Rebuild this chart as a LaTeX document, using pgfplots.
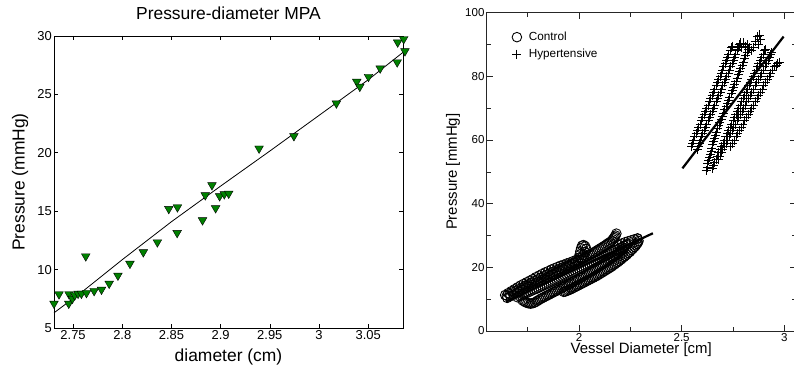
\documentclass[border=0pt]{standalone}
\usepackage{fontspec}
\setmainfont{Liberation Sans}
\usepackage{pgfplots}
\pgfplotsset{compat=1.18}
\definecolor{mgreen}{rgb}{0,0.5,0}
\pgfplotsset{wideleg/.style={legend image code/.code={\path[draw=none,fill=none] (0cm,-0.05cm) rectangle (0.6cm,0.05cm);\draw[##1, only marks] plot coordinates {(0.25cm,0cm)};}}}
\begin{document}
\begin{tikzpicture}
\useasboundingbox (0,0) rectangle (794bp,367bp);
\begin{axis}[
 at={(54bp,39bp)}, anchor=south west,
 width=349bp, height=292bp, scale only axis,
 xmin=2.7306, xmax=3.0854, ymin=5, ymax=30,
 xtick={2.75,2.8,2.85,2.9,2.95,3,3.05},
 xticklabels={2.75,2.8,2.85,2.9,2.95,3,3.05},
 ytick={5,10,15,20,25,30},
 yticklabels={5,10,15,20,25,30},
 tick align=inside, major tick length=4bp,
 axis line style={line width=0.8bp},
 every tick/.style={black, line width=0.6bp},
 ticklabel style={font=\fontsize{13}{15}\selectfont, inner sep=2bp},
 /pgf/number format/assume math mode=true,
 xlabel={diameter (cm)}, ylabel={Pressure (mmHg)},
 label style={font=\fontsize{17.5}{20}\selectfont},
 xlabel style={at={(axis description cs:0.5,-0.0993)}, anchor=center},
 ylabel style={at={(axis description cs:-0.0974,0.5)}, anchor=center},
 title={Pressure-diameter MPA},
 title style={at={(axis description cs:0.5,1.056)}, anchor=center, font=\fontsize{17.5}{20}\selectfont},
 clip=false,
]
\addplot[only marks, mark=triangle*, mark size=5bp,
  mark options={rotate=180, fill=mgreen, draw=black, line width=0.4bp}]
 table {
x y
2.7306 7.09
2.7357 7.89
2.7459 7.89
2.7456 7.09
2.7493 7.51
2.7517 7.80
2.7551 7.94
2.7585 7.94
2.7629 11.14
2.7636 8.00
2.7714 8.17
2.7789 8.29
2.7867 8.80
2.7956 9.49
2.8078 10.51
2.8214 11.49
2.8357 12.34
2.8473 15.20
2.8561 15.34
2.8558 13.14
2.8816 14.23
2.8844 16.37
2.8912 17.23
2.8949 15.26
2.8990 16.29
2.9037 16.46
2.9082 16.51
2.9391 20.37
2.9745 21.43
3.0177 24.23
3.0384 26.09
3.0415 25.66
3.0503 26.51
3.0622 27.23
3.0795 27.75
3.0800 29.45
3.0861 29.74
3.0874 28.70
};
\addplot[black, line width=0.8bp] coordinates {
(2.7306,6.3) (2.76,8.15) (2.80,10.85) (2.85,14.1) (2.90,17.15) (2.95,20.15) (3.00,23.2) (3.05,26.25) (3.0854,28.6)};
\end{axis}

\begin{axis}[
 at={(486.7bp,36bp)}, anchor=south west,
 width=309bp, height=318.3bp, scale only axis,
 xmin=1.55, xmax=3.056, ymin=0, ymax=100,
 xtick={2,2.5,3}, xticklabels={2,2.5,3},
 minor xtick={1.75,2.25,2.75},
 ytick={0,20,40,60,80,100}, yticklabels={0,20,40,60,80,100},
 minor ytick={10,30,50,70,90},
 tick align=inside, major tick length=6bp, minor tick length=4bp,
 axis line style={line width=0.8bp, black!85},
 every tick/.style={black!85, line width=0.6bp},
 ticklabel style={font=\fontsize{11.6}{14}\selectfont, inner sep=2bp},
 /pgf/number format/assume math mode=true,
 xlabel={Vessel Diameter [cm]}, ylabel={Pressure [mmHg]},
 label style={font=\fontsize{15}{18}\selectfont},
 xlabel style={at={(axis description cs:0.5,-0.06)}, anchor=center},
 ylabel style={at={(axis description cs:-0.109,0.5)}, anchor=center},
 legend style={at={(axis description cs:0.0645,0.952)}, anchor=north west,
   draw=none, fill=none, font=\fontsize{11.8}{14}\selectfont, row sep=3bp},
 legend cell align=left,
]
\addplot[only marks, mark=o, mark size=4.8bp, mark options={black, line width=0.9bp}, wideleg]
 coordinates {
(1.640,11.3) (1.655,11.9) (1.670,12.5) (1.685,13.1) (1.700,13.7) (1.715,14.3) (1.730,14.8) (1.745,15.3)
(1.760,15.8) (1.775,16.3) (1.790,16.9) (1.805,17.4) (1.820,17.9) (1.835,18.4) (1.850,18.8) (1.865,19.3)
(1.880,19.7) (1.895,20.1) (1.910,20.5) (1.925,20.8) (1.940,21.2) (1.955,21.5) (1.970,21.9) (1.985,22.3)
(1.648,11.1) (1.663,11.6) (1.678,12.2) (1.693,12.7) (1.708,13.2) (1.723,13.7) (1.738,14.2) (1.753,14.7)
(1.768,15.2) (1.783,15.7) (1.798,16.2) (1.813,16.7) (1.828,17.2) (1.843,17.7) (1.858,18.1) (1.873,18.6)
(1.888,19.0) (1.903,19.4) (1.918,19.9) (1.933,20.3) (1.948,20.7) (1.963,21.1) (1.978,21.6) (1.993,22.1)
(1.650,10.4) (1.665,10.9) (1.680,11.4) (1.695,11.9) (1.710,12.4) (1.725,12.9) (1.740,13.4) (1.755,13.9)
(1.770,14.4) (1.785,14.9) (1.800,15.4) (1.815,15.9) (1.830,16.4) (1.845,16.9) (1.860,17.4) (1.875,17.9)
(1.890,18.4) (1.905,18.9) (1.920,19.4) (1.935,19.9) (1.950,20.4) (1.965,20.9) (1.980,21.4) (1.995,21.9)
(2.010,22.4) (2.025,22.9) (2.040,23.5) (2.055,24.0) (2.070,24.6) (2.085,25.2) (2.100,25.8) (2.115,26.4)
(2.130,27.0) (2.145,27.7) (2.160,28.4) (2.170,29.2) (2.178,30.0) (2.182,30.6)
(2.003,22.2) (2.018,22.7) (2.033,23.2) (2.048,23.8) (2.063,24.3) (2.078,24.9) (2.093,25.5) (2.108,26.1)
(2.123,26.7) (2.138,27.4) (2.153,28.0) (2.165,28.8) (2.174,29.6)
(1.725,9.6) (1.740,9.0) (1.755,8.7) (1.770,8.7) (1.785,9.0) (1.800,9.6) (1.815,10.2) (1.830,10.7)
(1.845,11.2) (1.860,11.7) (1.875,12.2) (1.890,12.7) (1.905,13.2) (1.920,13.7) (1.935,14.2) (1.950,14.7)
(1.965,15.2) (1.980,15.8) (1.995,16.3) (2.010,16.9) (2.025,17.4) (2.040,18.0) (2.055,18.6) (2.070,19.2)
(2.085,19.8) (2.100,20.4) (2.115,21.0) (2.130,21.6) (2.145,22.3) (2.160,23.0) (2.175,23.7) (2.190,24.4)
(2.205,25.2) (2.220,26.0)
(1.733,9.3) (1.748,8.8) (1.763,8.6) (1.778,8.8) (1.793,9.3) (1.808,9.9) (1.823,10.4) (1.838,10.9)
(1.853,11.4) (1.868,11.9) (1.883,12.4) (1.898,12.9) (1.913,13.4) (1.928,13.9) (1.943,14.4) (1.958,14.9)
(1.973,15.5) (1.988,16.0) (2.003,16.6) (2.018,17.1) (2.033,17.7) (2.048,18.3) (2.063,18.9) (2.078,19.5)
(2.093,20.1) (2.108,20.7) (2.123,21.3) (2.138,21.9) (2.153,22.6) (2.168,23.3) (2.183,24.0) (2.198,24.8)
(2.213,25.6)
(1.925,12.3) (1.940,12.6) (1.955,13.0) (1.970,13.5) (1.985,14.0) (2.000,14.5) (2.015,15.0) (2.030,15.5)
(2.045,16.0) (2.060,16.5) (2.075,17.0) (2.090,17.5) (2.105,18.1) (2.120,18.7) (2.135,19.3) (2.150,19.9)
(2.165,20.6) (2.180,21.3) (2.195,22.0) (2.210,22.8) (2.225,23.6) (2.240,24.5) (2.255,25.4) (2.270,26.4)
(2.282,27.4) (2.290,28.3) (2.285,29.1)
(1.933,12.4) (1.948,12.8) (1.963,13.2) (1.978,13.7) (1.993,14.2) (2.008,14.7) (2.023,15.2) (2.038,15.7)
(2.053,16.2) (2.068,16.7) (2.083,17.2) (2.098,17.8) (2.113,18.4) (2.128,19.0) (2.143,19.6) (2.158,20.2)
(2.173,20.9) (2.188,21.6) (2.203,22.4) (2.218,23.2) (2.233,24.0) (2.248,24.9) (2.263,25.9) (2.277,26.9)
(2.287,27.8)
(2.000,23.0) (2.003,24.0) (2.006,25.0) (2.010,26.0) (2.015,26.8) (2.022,27.0) (2.030,26.6) (2.035,25.8)
(2.028,24.8) (2.020,23.8) (2.012,23.0)
(1.700,10.6) (1.720,11.2) (1.740,11.8) (1.760,12.4) (1.780,13.0) (1.800,13.5) (1.820,14.1) (1.840,14.7)
(1.860,15.3) (1.880,15.9) (1.900,16.5) (1.920,17.1) (1.940,17.7) (1.960,18.3) (1.980,18.9) (2.000,19.5)
(2.020,20.1) (2.040,20.7) (2.060,21.3) (2.080,22.0) (2.100,22.6) (2.120,23.3) (2.140,24.0) (2.160,24.7)
(2.180,25.4) (2.200,26.1) (2.220,26.8) (2.240,27.4)
(1.710,10.9) (1.730,11.5) (1.750,12.1) (1.770,12.7) (1.790,13.2) (1.810,13.8) (1.830,14.4) (1.850,15.0)
(1.870,15.6) (1.890,16.2) (1.910,16.8) (1.930,17.4) (1.950,18.0) (1.970,18.6) (1.990,19.2) (2.010,19.8)
(2.030,20.4) (2.050,21.0) (2.070,21.6) (2.090,22.3) (2.110,22.9) (2.130,23.6) (2.150,24.3) (2.170,25.0)
(2.190,25.7) (2.210,26.4) (2.230,27.1)
(2.195,27.0) (2.210,27.5) (2.225,27.9) (2.240,28.2) (2.255,28.5) (2.270,28.8) (2.285,29.0)
};
\addlegendentry{Control}
\addplot[only marks, mark=+, mark size=4.5bp, mark options={black, line width=0.85bp}, wideleg]
 coordinates {
(2.550,58) (2.558,60) (2.571,62) (2.584,64) (2.597,66) (2.610,68) (2.623,70) (2.636,72)
(2.649,74) (2.662,76) (2.675,78) (2.688,80) (2.700,82) (2.712,84) (2.724,86) (2.736,88) (2.748,89.5)
(2.554,59) (2.564,61) (2.577,63) (2.590,65) (2.603,67) (2.616,69) (2.629,71) (2.642,73)
(2.655,75) (2.668,77) (2.681,79) (2.694,81) (2.706,83) (2.718,85) (2.730,87) (2.742,89)
(2.575,57) (2.585,59) (2.597,61) (2.610,63) (2.623,65) (2.636,67) (2.649,69) (2.662,71)
(2.675,73) (2.688,75) (2.701,77) (2.714,79) (2.727,81) (2.740,83) (2.752,85) (2.764,87) (2.776,89) (2.788,90.5)
(2.580,58) (2.591,60) (2.603,62) (2.616,64) (2.629,66) (2.642,68) (2.655,70) (2.668,72)
(2.681,74) (2.694,76) (2.707,78) (2.720,80) (2.733,82) (2.746,84) (2.758,86) (2.770,88) (2.782,90)
(2.620,50.5) (2.628,52.5) (2.636,54.5) (2.644,56.5) (2.652,58.5) (2.661,60.5) (2.671,62.5) (2.682,64.5)
(2.693,66.5) (2.705,68.5) (2.717,70.5) (2.729,72.5) (2.741,74.5) (2.753,76.5) (2.765,78.5) (2.777,80.5)
(2.789,82.5) (2.801,84.5) (2.813,86.5) (2.825,88.5)
(2.624,51.5) (2.632,53.5) (2.640,55.5) (2.648,57.5) (2.656,59.5) (2.666,61.5) (2.676,63.5) (2.687,65.5)
(2.699,67.5) (2.711,69.5) (2.723,71.5) (2.735,73.5) (2.747,75.5) (2.759,77.5) (2.771,79.5) (2.783,81.5)
(2.795,83.5) (2.807,85.5) (2.819,87.5)
(2.650,51) (2.662,53) (2.675,55) (2.688,57) (2.702,59) (2.716,61) (2.730,63) (2.744,65) (2.758,67)
(2.772,69) (2.786,71) (2.800,73) (2.814,75) (2.828,77) (2.842,79) (2.856,81) (2.870,83) (2.884,85)
(2.898,87) (2.910,88.5)
(2.656,52) (2.668,54) (2.681,56) (2.695,58) (2.709,60) (2.723,62) (2.737,64) (2.751,66) (2.765,68)
(2.779,70) (2.793,72) (2.807,74) (2.821,76) (2.835,78) (2.849,80) (2.863,82) (2.877,84) (2.891,86) (2.904,88)
(2.680,54) (2.694,56) (2.709,58) (2.724,60) (2.739,62) (2.754,64) (2.770,66) (2.786,68) (2.802,70)
(2.818,72) (2.834,74) (2.850,76) (2.866,78) (2.882,80) (2.898,82) (2.914,84) (2.928,86) (2.940,87.5)
(2.687,55) (2.701,57) (2.716,59) (2.731,61) (2.746,63) (2.762,65) (2.778,67) (2.794,69) (2.810,71)
(2.826,73) (2.842,75) (2.858,77) (2.874,79) (2.890,81) (2.906,83) (2.921,85) (2.934,86.8)
(2.740,58) (2.757,60) (2.774,62) (2.791,64) (2.808,66) (2.825,68) (2.842,70) (2.859,72) (2.876,74)
(2.893,76) (2.910,78) (2.927,80) (2.944,82) (2.960,83.5) (2.975,84.5)
(2.748,59) (2.765,61) (2.782,63) (2.799,65) (2.816,67) (2.833,69) (2.850,71) (2.867,73) (2.884,75)
(2.901,77) (2.918,79) (2.935,81) (2.952,83) (2.968,84)
(2.770,88.5) (2.780,90) (2.790,89) (2.800,90.5) (2.810,89.5) (2.820,90) (2.830,89) (2.840,88)
(2.850,89) (2.860,91) (2.870,92.5) (2.880,93) (2.885,91.5) (2.875,90)
};
\addlegendentry{Hypertensive}
\addplot[black, line width=2.2bp, forget plot] coordinates {(1.645,9.2) (2.36,30.7)};
\addplot[black, line width=2.2bp, forget plot] coordinates {(2.504,51.1) (2.997,92.5)};
\end{axis}
\end{tikzpicture}
\end{document}
